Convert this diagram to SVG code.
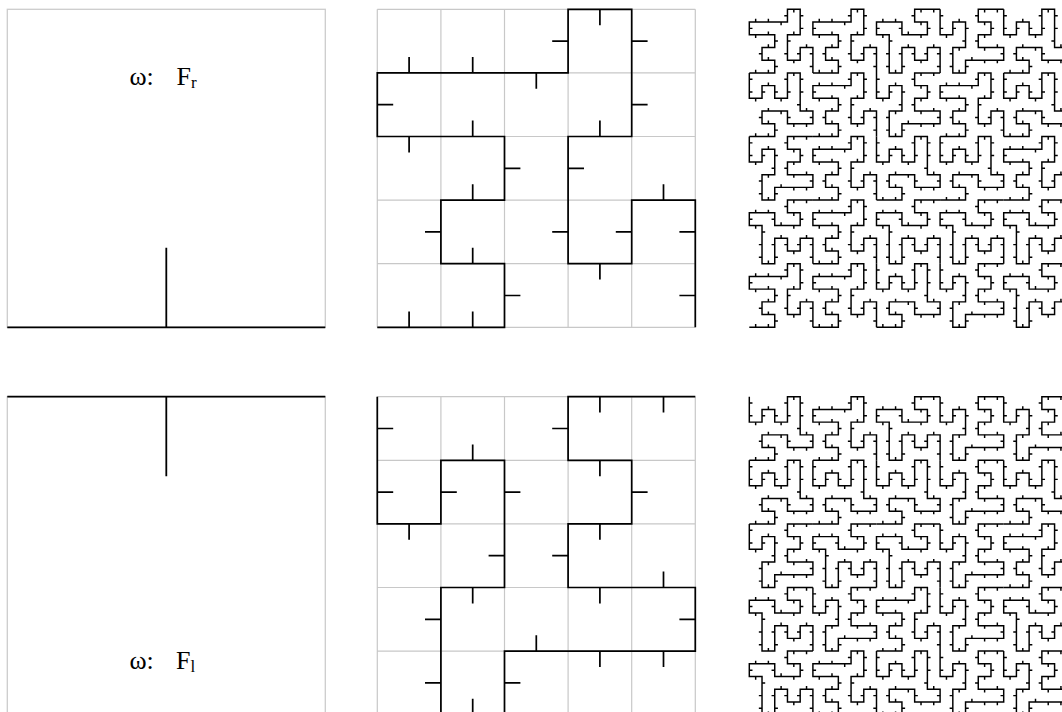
<svg xmlns="http://www.w3.org/2000/svg" xmlns:xlink="http://www.w3.org/1999/xlink" width="1062" height="712" viewBox="0 0 1062 712">
<style>
.c{fill:none;stroke:#000;stroke-linejoin:miter;stroke-linecap:butt}
.grid{fill:none;stroke:#c8c8c8;stroke-width:1.2}
.frame{fill:none;stroke:#cccccc;stroke-width:1.3}
.l0{fill:none;stroke:#000;stroke-width:1.8}
.lbl{font-family:"Liberation Serif","Times New Roman",serif;font-size:26px;fill:#000}
</style>
<defs>
<g id="T">
<path class="c" d="M0,5H2V4H1V3H2V2H0V1H3V0H4V2H3V4H4V3H5V5"/>
<path class="c" d="M0.5,5v-0.25M1.5,5v-0.25M2,4.5h0.25M1.5,4v-0.25M1,3.5h-0.25M1.5,3v-0.25M2,2.5h0.25M1.5,2v-0.25M0.5,2v0.25M0,1.5h0.25M0.5,1v-0.25M1.5,1v-0.25M2.5,1v0.25M3,0.5h-0.25M3.5,0v0.25M4,0.5h0.25M4,1.5h0.25M3.5,2v-0.25M3,2.5h0.25M3,3.5h-0.25M3.5,4v0.25M4,3.5h-0.25M4.5,3v-0.25M5,3.5h-0.25M5,4.5h-0.25"/>
</g>
<g id="L2">
<use xlink:href="#T" href="#T" transform="translate(0,20)"/>
<use xlink:href="#T" href="#T" transform="translate(5,20)"/>
<use xlink:href="#T" href="#T" transform="translate(10,20) rotate(90 2.5 2.5)"/>
<use xlink:href="#T" href="#T" transform="translate(5,15)"/>
<use xlink:href="#T" href="#T" transform="translate(0,15) rotate(-90 2.5 2.5)"/>
<use xlink:href="#T" href="#T" transform="translate(5,10)"/>
<use xlink:href="#T" href="#T" transform="translate(10,10) rotate(90 2.5 2.5)"/>
<use xlink:href="#T" href="#T" transform="translate(5,5)"/>
<use xlink:href="#T" href="#T" transform="translate(0,10) rotate(180 2.5 2.5)"/>
<use xlink:href="#T" href="#T" transform="translate(0,5) rotate(90 2.5 2.5)"/>
<use xlink:href="#T" href="#T" transform="translate(0,0)"/>
<use xlink:href="#T" href="#T" transform="translate(5,0)"/>
<use xlink:href="#T" href="#T" transform="translate(10,5) rotate(180 2.5 2.5)"/>
<use xlink:href="#T" href="#T" transform="translate(10,0) rotate(-90 2.5 2.5)"/>
<use xlink:href="#T" href="#T" transform="translate(15,0) rotate(180 2.5 2.5)"/>
<use xlink:href="#T" href="#T" transform="translate(20,0) rotate(90 2.5 2.5)"/>
<use xlink:href="#T" href="#T" transform="translate(20,5) rotate(90 2.5 2.5)"/>
<use xlink:href="#T" href="#T" transform="translate(15,5)"/>
<use xlink:href="#T" href="#T" transform="translate(15,10) rotate(90 2.5 2.5)"/>
<use xlink:href="#T" href="#T" transform="translate(10,15) rotate(-90 2.5 2.5)"/>
<use xlink:href="#T" href="#T" transform="translate(15,20) rotate(180 2.5 2.5)"/>
<use xlink:href="#T" href="#T" transform="translate(15,15) rotate(-90 2.5 2.5)"/>
<use xlink:href="#T" href="#T" transform="translate(20,10)"/>
<use xlink:href="#T" href="#T" transform="translate(20,15) rotate(-90 2.5 2.5)"/>
<use xlink:href="#T" href="#T" transform="translate(20,20) rotate(-90 2.5 2.5)"/>
</g>
<path id="G" class="grid" d="M377.3,9.3V327.3M440.9,9.3V327.3M504.5,9.3V327.3M568.1,9.3V327.3M631.7,9.3V327.3M695.3,9.3V327.3M377.3,9.3H695.3M377.3,72.9H695.3M377.3,136.5H695.3M377.3,200.1H695.3M377.3,263.7H695.3M377.3,327.3H695.3"/>
</defs>
<rect width="1062" height="712" fill="#fff"/>

<g id="level0-right">
<rect class="frame" x="7.3" y="9.3" width="318" height="318"/>
<path class="l0" d="M7.3,327.3H325.3M166.3,327.3V247.8"/>
<text class="lbl" y="85"><tspan x="129.5">ω:</tspan><tspan x="176.5">F</tspan><tspan font-size="17" dy="3">r</tspan></text>
</g>

<g id="level1-right">
<use xlink:href="#G" href="#G"/>
<g transform="translate(377.3,9.3) scale(63.6)" stroke-width="0.027">
<use xlink:href="#T" href="#T"/>
</g>
</g>

<g id="level2-right">
<g transform="translate(749.3,9.3) scale(12.72)" stroke-width="0.115">
<use xlink:href="#L2" href="#L2"/>
</g>
</g>

<g id="level0-left">
<rect class="frame" x="7.3" y="396.7" width="318" height="318"/>
<path class="l0" d="M7.3,396.7H325.3M166.3,396.7V476.2"/>
<text class="lbl" y="668.5"><tspan x="129.5">ω:</tspan><tspan x="176">F</tspan><tspan font-size="17" dy="3">l</tspan></text>
</g>

<g id="level1-left">
<use xlink:href="#G" href="#G" transform="translate(0,387.4)"/>
<g transform="translate(695.3,714.7) scale(-63.6)" stroke-width="0.027">
<use xlink:href="#T" href="#T"/>
</g>
</g>

<g id="level2-left">
<g transform="translate(1067.3,714.7) scale(-12.72)" stroke-width="0.115">
<use xlink:href="#L2" href="#L2"/>
</g>
</g>
</svg>
